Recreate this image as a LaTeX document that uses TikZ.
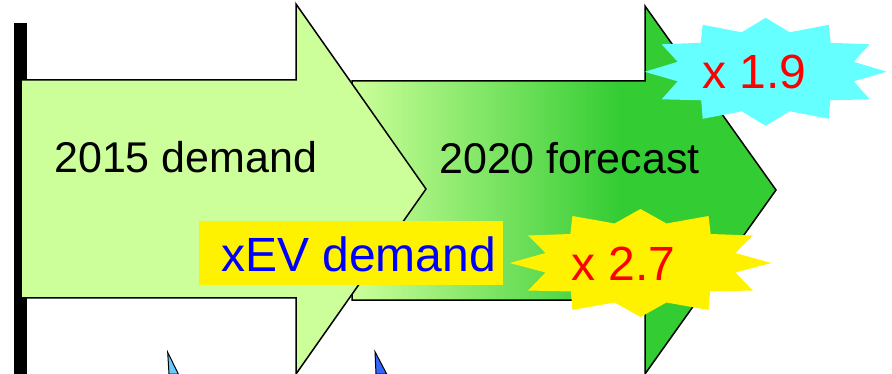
\documentclass[tikz,border=0pt]{standalone}
\usepackage{fontspec}
\setmainfont{Liberation Sans}
\definecolor{lgreen}{HTML}{CCFF99}
\definecolor{dgreen}{HTML}{33CC33}
\definecolor{cyanb}{HTML}{66FFFF}
\definecolor{lblue}{HTML}{66CCFF}
\definecolor{rblue}{HTML}{3366FF}
\tikzset{
  outline/.style={draw=black, line width=1.5pt, line join=miter},
  bigtxt/.style={font=\fontsize{43}{50}\selectfont, inner sep=0pt, anchor=base west},
  hugetxt/.style={font=\fontsize{48}{56}\selectfont, inner sep=0pt, anchor=base west},
  burst/.pic={
    \path[pic actions] (0,-54) -- (24,-39.5) -- (63,-47) -- (65,-29) -- (104,-27.5) -- (88,-10) -- (121,0)
      -- (88,9.5) -- (104,27.5) -- (64.5,28.5) -- (63,47) -- (24,39.5) -- (0,54)
      -- (-24,39.5) -- (-63,47) -- (-64.5,28.5) -- (-104,27.5) -- (-88,9.5) -- (-121,0)
      -- (-88,-10) -- (-104,-27.5) -- (-65,-29) -- (-63,-47) -- (-24,-39.5) -- cycle;
  }
}
\begin{document}
\begin{tikzpicture}[x=1pt, y=-1pt]
\useasboundingbox (0,0) rectangle (892,374);
% black bar
\fill[black] (14,23) rectangle (27,374);
% second arrow (gradient)
\begin{scope}
  \clip (352,81) -- (645,81) -- (645,6) -- (776,190) -- (645,374) -- (645,300) -- (352,300) -- cycle;
  \shade[left color=lgreen, right color=dgreen] (352,0) rectangle (620,374);
  \fill[dgreen] (619.5,0) rectangle (780,374);
\end{scope}
\draw[outline] (352,81) -- (645,81) -- (645,6) -- (776,190) -- (645,374) -- (645,300) -- (352,300) -- cycle;
% first arrow
\draw[outline, fill=lgreen] (21,80) -- (296,80) -- (296,4) -- (426,189) -- (296,374) -- (296,298) -- (21,298) -- cycle;
% small blue arrow tips at the bottom
\draw[line width=1pt, fill=lblue] (167.7,352.3) -- (178.3,374) -- (169,374) -- cycle;
\draw[line width=1pt, fill=rblue] (375,351.7) -- (386.7,374) -- (376,374) -- cycle;
% xEV box
\fill[yellow] (199,221) rectangle (503,285);
% bursts
\pic[fill=cyanb] at (765.7,71.8) {burst};
\pic[fill=yellow, xscale=1.08] at (640.5,263) {burst};
% texts
\node[bigtxt] (t2015) at (54,173) {2015 demand};
\node[bigtxt] (t2020) at (439,174) {2020 forecast};
\node[hugetxt, text=blue] (txev) at (221,272) {xEV demand};
\node[hugetxt, text=red] (t19) at (702,89) {x 1.9};
\node[hugetxt, text=red] (t27) at (571,280) {x 2.7};
\end{tikzpicture}
\end{document}
